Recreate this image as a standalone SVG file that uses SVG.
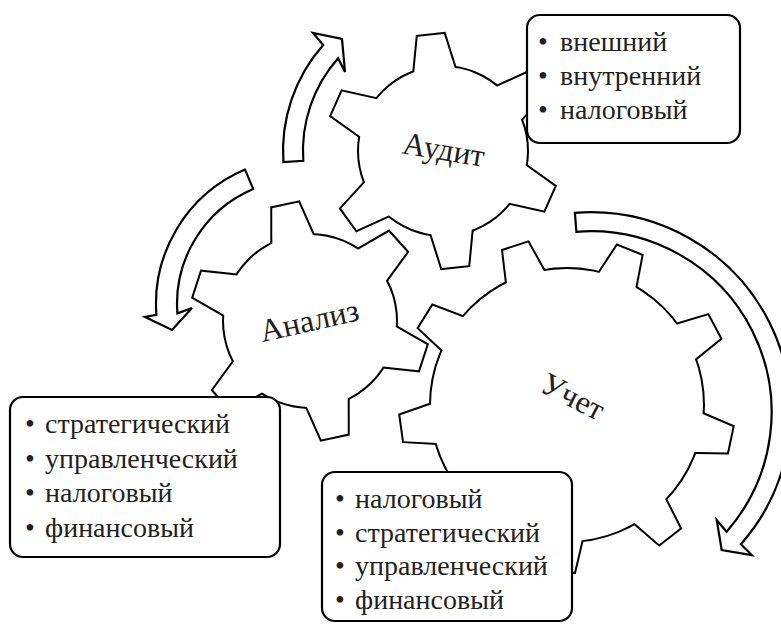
<svg xmlns="http://www.w3.org/2000/svg" width="781" height="624" viewBox="0 0 781 624">
<defs>
<style>
.gs{fill:#fff;stroke:#000;stroke-width:4;stroke-linejoin:miter}
.gf{fill:#fff;stroke:none}
.arr{fill:#fff;stroke:#000;stroke-width:2.2;stroke-linejoin:miter}
.box{fill:#fff;stroke:#000;stroke-width:2.2}
.t{font-size:28px;fill:#231f20}
.lbl{font-size:32px;fill:#231f20;text-anchor:middle}
</style>
<polygon id="ta" points="70,-22.66 116.25,-13.24 116.25,13.24 70,22.66"/>
<polygon id="tb" points="72,-23.23 118.23,-13.47 118.23,13.47 72,23.23"/>
<polygon id="tc" points="125,-21.3 166.49,-13.1 166.49,13.1 125,21.3"/>
</defs>
<rect width="781" height="624" fill="#fff"/>

<g id="gear-audit">
 <g transform="translate(443,151)">
  <g class="gs"><circle r="84"/><use href="#ta" transform="rotate(-96)"/><use href="#ta" transform="rotate(-36)"/><use href="#ta" transform="rotate(24)"/><use href="#ta" transform="rotate(84)"/><use href="#ta" transform="rotate(144)"/><use href="#ta" transform="rotate(204)"/></g>
  <g class="gf"><circle r="84"/><use href="#ta" transform="rotate(-96)"/><use href="#ta" transform="rotate(-36)"/><use href="#ta" transform="rotate(24)"/><use href="#ta" transform="rotate(84)"/><use href="#ta" transform="rotate(144)"/><use href="#ta" transform="rotate(204)"/></g>
 </g>
 <text class="lbl" font-family="Liberation Serif, DejaVu Serif, serif" transform="translate(442,160) rotate(9.5)">Аудит</text>
</g>

<g id="gear-analiz">
 <g transform="translate(310,321)">
  <g class="gs"><circle r="86"/><use href="#tb" transform="rotate(-102)"/><use href="#tb" transform="rotate(-42)"/><use href="#tb" transform="rotate(18)"/><use href="#tb" transform="rotate(78)"/><use href="#tb" transform="rotate(138)"/><use href="#tb" transform="rotate(198)"/></g>
  <g class="gf"><circle r="86"/><use href="#tb" transform="rotate(-102)"/><use href="#tb" transform="rotate(-42)"/><use href="#tb" transform="rotate(18)"/><use href="#tb" transform="rotate(78)"/><use href="#tb" transform="rotate(138)"/><use href="#tb" transform="rotate(198)"/></g>
 </g>
 <text class="lbl" font-family="Liberation Serif, DejaVu Serif, serif" transform="translate(311.5,331) rotate(-12.6)">Анализ</text>
</g>

<g id="gear-uchet">
 <g transform="translate(567,405)">
  <g class="gs"><circle r="136"/><use href="#tc" transform="rotate(-108)"/><use href="#tc" transform="rotate(-68)"/><use href="#tc" transform="rotate(-28)"/><use href="#tc" transform="rotate(12)"/><use href="#tc" transform="rotate(52)"/><use href="#tc" transform="rotate(92)"/><use href="#tc" transform="rotate(132)"/><use href="#tc" transform="rotate(172)"/><use href="#tc" transform="rotate(212)"/></g>
  <g class="gf"><circle r="136"/><use href="#tc" transform="rotate(-108)"/><use href="#tc" transform="rotate(-68)"/><use href="#tc" transform="rotate(-28)"/><use href="#tc" transform="rotate(12)"/><use href="#tc" transform="rotate(52)"/><use href="#tc" transform="rotate(92)"/><use href="#tc" transform="rotate(132)"/><use href="#tc" transform="rotate(172)"/><use href="#tc" transform="rotate(212)"/></g>
 </g>
 <text class="lbl" font-family="Liberation Serif, DejaVu Serif, serif" transform="translate(568,406) rotate(27)">Учет</text>
</g>

<g id="connectors">
 <path class="arr" d="M283.4,162.2 A160,160 0 0 1 323.2,45 L313,33 L342,39 L345,72 L338.1,58.2 A140,140 0 0 0 303.3,160.8 Z"/>
 <path class="arr" d="M245,169.6 A146,146 0 0 0 156.4,314.9 L145,317 L172,330 L192,308 L177.4,313.4 A125,125 0 0 1 253.2,188.9 Z"/>
 <path class="arr" d="M574.9,212.8 A200,200 0 0 1 740.9,544.2 L751.7,555 L721.7,550 L716.7,520 L726.6,531.7 A181,181 0 0 0 576.4,231.8 Z"/>
</g>

<g id="box-audit">
 <rect class="box" x="527" y="15" width="213" height="128" rx="13"/>
 <text class="t" font-family="Liberation Serif, DejaVu Serif, serif"><tspan x="538" y="51">•</tspan><tspan x="560" y="51">внешний</tspan><tspan x="538" y="85">•</tspan><tspan x="560" y="85">внутренний</tspan><tspan x="538" y="119">•</tspan><tspan x="560" y="119">налоговый</tspan></text>
</g>

<g id="box-analiz">
 <rect class="box" x="10" y="397" width="270" height="160" rx="13"/>
 <text class="t" font-family="Liberation Serif, DejaVu Serif, serif"><tspan x="25" y="433">•</tspan><tspan x="45" y="433">стратегический</tspan><tspan x="25" y="467.5">•</tspan><tspan x="45" y="467.5">управленческий</tspan><tspan x="25" y="502">•</tspan><tspan x="45" y="502">налоговый</tspan><tspan x="25" y="536.5">•</tspan><tspan x="45" y="536.5">финансовый</tspan></text>
</g>

<g id="box-uchet">
 <rect class="box" x="322" y="472" width="250" height="149" rx="13"/>
 <text class="t" font-family="Liberation Serif, DejaVu Serif, serif"><tspan x="335" y="508">•</tspan><tspan x="355" y="508">налоговый</tspan><tspan x="335" y="542">•</tspan><tspan x="355" y="542">стратегический</tspan><tspan x="335" y="575">•</tspan><tspan x="355" y="575">управленческий</tspan><tspan x="335" y="609">•</tspan><tspan x="355" y="609">финансовый</tspan></text>
</g>
</svg>
